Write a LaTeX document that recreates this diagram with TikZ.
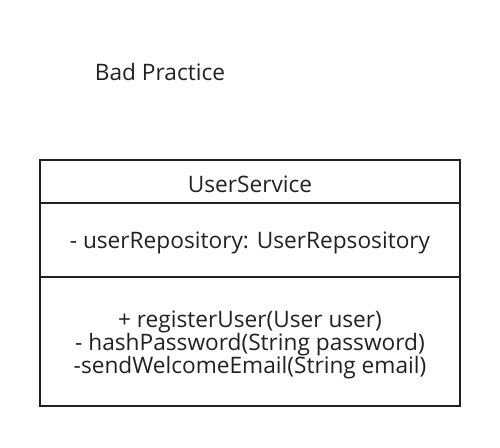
\documentclass[tikz,border=0pt]{standalone}
\usepackage{fontspec}
\setmainfont{Open Sans}
\begin{document}
\begin{tikzpicture}[x=0.75pt,y=-0.75pt,
  txt/.style={text=black!87, font=\fontsize{17pt}{17.2pt}\selectfont, inner sep=0pt, align=center},
  frame/.style={draw=black!87, line width=1.1pt}]
\useasboundingbox (0,0) rectangle (500,447);
\node[txt] (title) at (160,72) {Bad Practice};
\draw[frame] (40,160) rectangle (460,406);
\coordinate (d1l) at (40,203);
\coordinate (d1r) at (460,203);
\coordinate (d2l) at (40,277);
\coordinate (d2r) at (460,277);
\draw[frame] (d1l) -- (d1r);
\draw[frame] (d2l) -- (d2r);
\node[txt] (name) at (250,184.5) {UserService};
\node[txt] (attr) at (250,243) {- userRepository: UserRepsository};
\node[txt] (ops) at (250,345) {+ registerUser(User user)\\- hashPassword(String password)\\-sendWelcomeEmail(String email)};
\end{tikzpicture}
\end{document}
